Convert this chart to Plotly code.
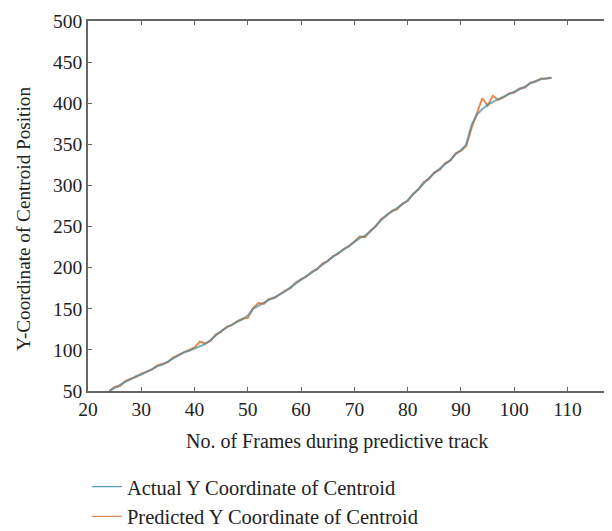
import plotly.graph_objects as go

frames = list(range(24, 108))

actual_y = [
    50, 54, 57, 61, 64, 68, 70, 73, 77, 80,       # 24-33
    82, 86, 90, 93, 97, 99, 102, 105, 107, 112,   # 34-43
    118, 123, 127, 131, 134, 137, 142, 150, 154, 157,  # 44-53
    161, 164, 167, 171, 176, 181, 185, 190, 194, 199,  # 54-63
    204, 209, 213, 218, 222, 227, 231, 236, 239, 244,  # 64-73
    251, 258, 264, 268, 272, 277, 282, 289, 296, 303,  # 74-83
    309, 315, 320, 326, 331, 338, 343, 350, 374, 386,  # 84-93
    393, 398, 402, 405, 408, 411, 414, 417, 420, 424,  # 94-103
    427, 429, 430, 431                                  # 104-107
]

predicted_y = [
    50, 55, 56, 62, 65, 67, 71, 74, 76, 81,
    83, 85, 91, 94, 96, 100, 103, 110, 108, 111,
    119, 122, 128, 130, 135, 138, 139, 151, 157, 156,
    162, 163, 168, 172, 175, 182, 186, 189, 195, 198,
    205, 208, 214, 217, 223, 226, 232, 238, 237, 245,
    250, 259, 263, 269, 271, 278, 281, 290, 295, 304,
    308, 316, 319, 327, 330, 339, 342, 348, 370, 388,
    406, 397, 409, 404, 407, 412, 413, 418, 419, 425,
    426, 430, 430, 431
]

x_ticks = [20, 30, 40, 50, 60, 70, 80, 90, 100, 110]
y_ticks = [50, 100, 150, 200, 250, 300, 350, 400, 450, 500]

series_names = ["Actual Y Coordinate of Centroid", "Predicted Y Coordinate of Centroid"]
series_colors = ["#5aa0ba", "#e08a55"]

font_family = "Liberation Serif, Times New Roman, serif"
text_color = "#222222"

fig = go.Figure()
# data lines
fig.add_trace(go.Scatter(
    x=frames, y=predicted_y, mode="lines", name=series_names[1],
    line=dict(color=series_colors[1], width=2), showlegend=False,
))
fig.add_trace(go.Scatter(
    x=frames, y=actual_y, mode="lines", name=series_names[0],
    line=dict(color="#4a8aa3", width=2), opacity=0.7, showlegend=False,
))
# legend entries (thin lines, as in the reference legend)
for name, color in zip(series_names, series_colors):
    fig.add_trace(go.Scatter(
        x=[None], y=[None], mode="lines", name=name,
        line=dict(color=color, width=1.3),
    ))

axis_common = dict(
    showline=True, linecolor="#666666", linewidth=1.5, mirror="ticks",
    ticks="inside", ticklen=4, tickwidth=1.2, tickcolor="#666666",
    showgrid=False, zeroline=False,
    tickfont=dict(family=font_family, size=19.5, color=text_color),
)

fig.update_layout(
    width=612, height=531,
    margin=dict(l=80, r=2, t=13, b=136),
    paper_bgcolor="white", plot_bgcolor="white",
    font=dict(family=font_family, size=19, color=text_color),
    xaxis=dict(range=[20, 119.1], tickvals=x_ticks, **axis_common),
    yaxis=dict(range=[50, 500], tickvals=y_ticks, **axis_common),
    legend=dict(
        x=-0.002, y=-0.205, xanchor="left", yanchor="top",
        font=dict(family=font_family, size=20.5, color=text_color),
        bgcolor="rgba(0,0,0,0)", tracegroupgap=0, itemwidth=30,
    ),
    showlegend=True,
    annotations=[
        dict(text="No. of Frames during predictive track",
             xref="paper", yref="paper", x=(330 - 80) / 530, y=(395 - 447) / 382,
             xanchor="center", yanchor="middle", showarrow=False,
             font=dict(family=font_family, size=20, color=text_color)),
        dict(text="Y-Coordinate of Centroid Position", textangle=-90,
             xref="paper", yref="paper", x=(15 - 80) / 530, y=(395 - 217) / 382,
             xanchor="center", yanchor="middle", showarrow=False,
             font=dict(family=font_family, size=19.2, color=text_color)),
    ],
)

fig.write_html("out.html")
